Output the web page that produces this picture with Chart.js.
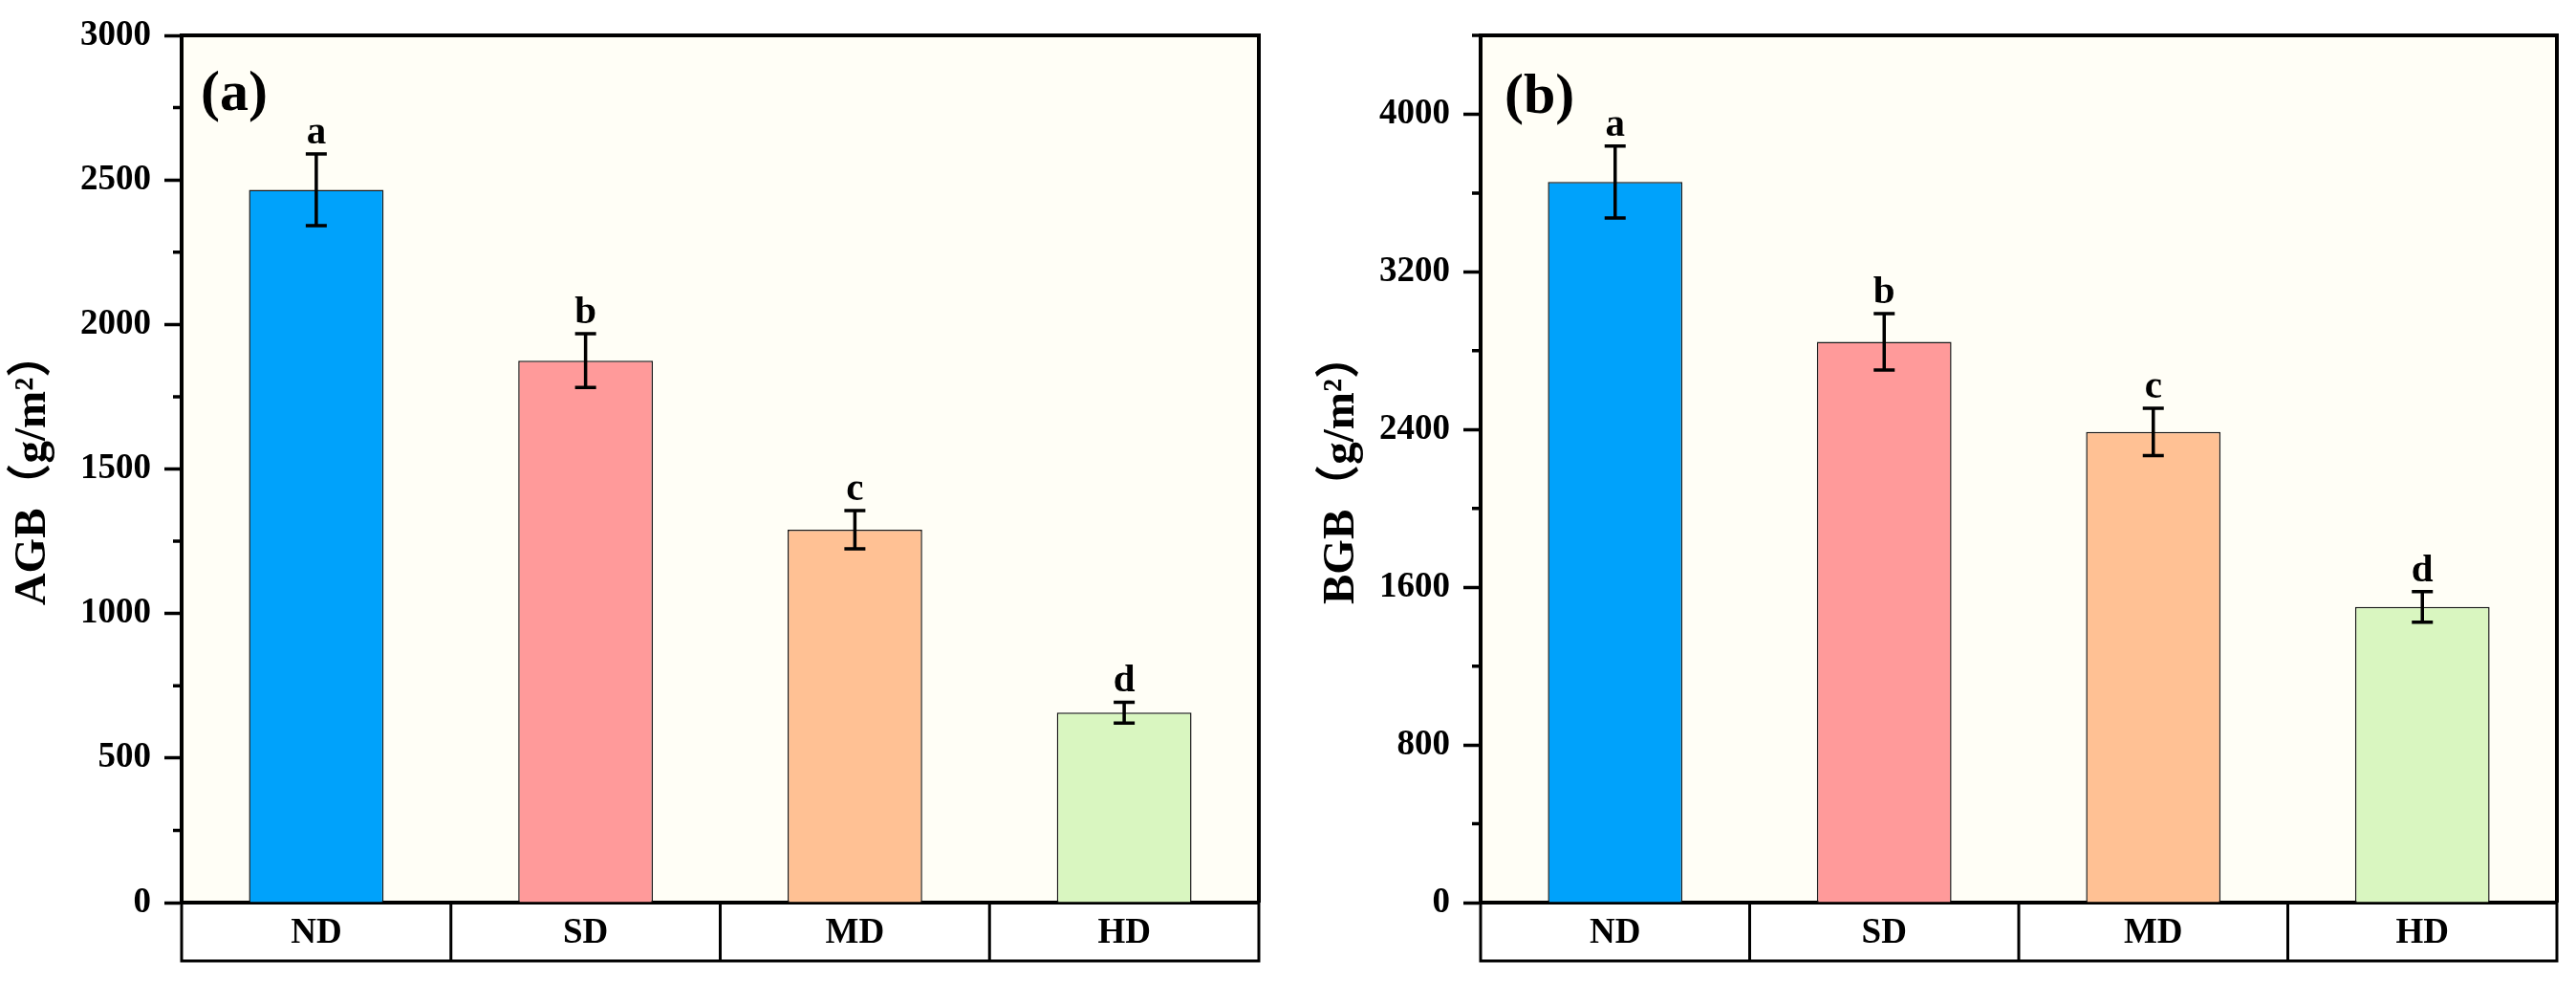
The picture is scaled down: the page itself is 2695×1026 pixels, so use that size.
<!DOCTYPE html>
<html>
<head>
<meta charset="utf-8">
<script src="https://cdn.jsdelivr.net/npm/chart.js@4.4.1/dist/chart.umd.min.js"></script>
<style>
  html, body { margin: 0; padding: 0; background: #ffffff; }
  #wrap { position: relative; width: 2695px; height: 1026px; }
  canvas { position: absolute; top: 0; }
  #ca { left: 0; }
  #cb { left: 1340px; }
</style>
</head>
<body>
<div id="wrap">
  <canvas id="ca" width="1340" height="1026"></canvas>
  <canvas id="cb" width="1355" height="1026"></canvas>
</div>
<script>
// ---------------- data ----------------
const categories = ['ND', 'SD', 'MD', 'HD'];
const sigLetters = ['a', 'b', 'c', 'd'];
const agbValues = [2466, 1875, 1290, 657];
const agbErrors = [124, 93, 66, 36];
const bgbValues = [3656, 2845, 2388, 1500];
const bgbErrors = [182, 143, 120, 78];
const agbTickLabels = ['0', '500', '1000', '1500', '2000', '2500', '3000'];
const bgbTickLabels = ['0', '800', '1600', '2400', '3200', '4000'];
const barColors = ['#00A2FB', '#FF9A9A', '#FFC194', '#D9F6C0'];

const SERIF = "'Liberation Serif', 'Times New Roman', 'Noto Sans CJK SC', serif";

const decor = {
  id: 'decor',
  beforeDraw(chart, args, o) {
    const { ctx, chartArea: a } = chart;
    ctx.save();
    ctx.fillStyle = '#FFFEF6';
    ctx.fillRect(a.left, a.top, a.right - a.left, a.bottom - a.top);
    ctx.restore();
  },
  afterDatasetsDraw(chart, args, o) {
    const { ctx } = chart;
    const y = chart.scales.y;
    const meta = chart.getDatasetMeta(0);
    const vals = chart.data.datasets[0].data;
    ctx.save();
    ctx.strokeStyle = '#000';
    ctx.lineWidth = 3.5;
    ctx.fillStyle = '#000';
    ctx.font = 'bold 41px ' + SERIF;
    ctx.textAlign = 'center';
    ctx.textBaseline = 'alphabetic';
    meta.data.forEach((bar, i) => {
      const v = vals[i], e = o.errors[i];
      const yt = y.getPixelForValue(v + e), yb = y.getPixelForValue(v - e);
      const x = bar.x, cw = 11;
      ctx.beginPath();
      ctx.moveTo(x, yt); ctx.lineTo(x, yb);
      ctx.moveTo(x - cw, yt); ctx.lineTo(x + cw, yt);
      ctx.moveTo(x - cw, yb); ctx.lineTo(x + cw, yb);
      ctx.stroke();
      ctx.fillText(o.letters[i], x, yt - 11);
    });
    ctx.restore();
  },
  afterDraw(chart, args, o) {
    const { ctx, chartArea: a } = chart;
    const y = chart.scales.y, xs = chart.scales.x;
    ctx.save();
    ctx.strokeStyle = '#000';
    // frame top & right
    ctx.lineWidth = 4;
    ctx.beginPath();
    ctx.moveTo(a.left - 2, a.top); ctx.lineTo(a.right, a.top); ctx.lineTo(a.right, a.bottom);
    ctx.stroke();
    // minor ticks
    ctx.lineWidth = 3.5;
    ctx.beginPath();
    y.ticks.forEach(t => {
      if (t.value % o.major !== 0) {
        const py = y.getPixelForValue(t.value);
        ctx.moveTo(a.left - 9, py); ctx.lineTo(a.left, py);
      }
    });
    ctx.stroke();
    // category box
    const boxBottom = a.bottom + o.boxHeight;
    ctx.lineWidth = 3;
    ctx.beginPath();
    ctx.moveTo(a.left, a.bottom); ctx.lineTo(a.left, boxBottom);
    ctx.lineTo(a.right, boxBottom); ctx.lineTo(a.right, a.bottom);
    for (let i = 0; i < categories.length - 1; i++) {
      const bx = (xs.getPixelForValue(i) + xs.getPixelForValue(i + 1)) / 2;
      ctx.moveTo(bx, a.bottom); ctx.lineTo(bx, boxBottom);
    }
    ctx.stroke();
    // panel label
    ctx.fillStyle = '#000';
    ctx.font = 'bold 60px ' + SERIF;
    ctx.textAlign = 'left';
    ctx.textBaseline = 'alphabetic';
    ctx.fillText(o.label, a.left + o.labelDx, o.labelY);
    ctx.restore();
  }
};

function makeChart(id, values, errors, title, max, step, major, tickLabels, yWidth, pad, titlePad, labelText, labelDx, labelY) {
  return new Chart(document.getElementById(id), {
    type: 'bar',
    data: {
      labels: categories,
      datasets: [{
        data: values,
        backgroundColor: barColors,
        borderColor: '#1a1a1a',
        borderWidth: 1.5,
        barPercentage: 0.5,
        categoryPercentage: 1.0
      }]
    },
    options: {
      responsive: false,
      animation: false,
      devicePixelRatio: 1,
      layout: { padding: pad },
      plugins: {
        legend: { display: false },
        tooltip: { enabled: false },
        decor: { errors: errors, letters: sigLetters, major: major, boxHeight: 61, label: labelText, labelDx: labelDx, labelY: labelY }
      },
      scales: {
        x: {
          grid: { display: false, drawTicks: false },
          border: { display: true, color: '#000', width: 4 },
          ticks: { color: '#000', padding: 10, font: { family: SERIF, size: 37, weight: 'bold' } },
          afterFit(s) { s.height = 61; }
        },
        y: {
          min: 0, max: max,
          grid: {
            drawOnChartArea: false, drawTicks: true, tickLength: 18, tickWidth: 3.5,
            tickColor: ctx => (ctx.tick && ctx.tick.value % major === 0) ? '#000' : 'rgba(0,0,0,0)'
          },
          border: { display: true, color: '#000', width: 4 },
          ticks: {
            stepSize: step, autoSkip: false, padding: 14, color: '#000',
            font: { family: SERIF, size: 37, weight: 'bold' },
            callback: v => (v % major === 0 ? tickLabels[v / major] : '')
          },
          title: {
            display: true, text: title, color: '#000',
            font: { family: SERIF, size: 47, weight: 'bold', lineHeight: 1.2 },
            padding: { top: titlePad, bottom: 0 }
          },
          afterFit(s) { s.width = yWidth; }
        }
      }
    },
    plugins: [decor]
  });
}

makeChart('ca', agbValues, agbErrors, 'AGB（g/m²）', 3000, 250, 500, agbTickLabels, 190,
  { left: 0, right: 23, top: 37, bottom: 21 }, 7, '(a)', 20, 115);
makeChart('cb', bgbValues, bgbErrors, 'BGB（g/m²）', 4400, 400, 800, bgbTickLabels, 209,
  { left: 0, right: 20, top: 37, bottom: 21 }, 36, '(b)', 25, 118);
</script>
</body>
</html>
